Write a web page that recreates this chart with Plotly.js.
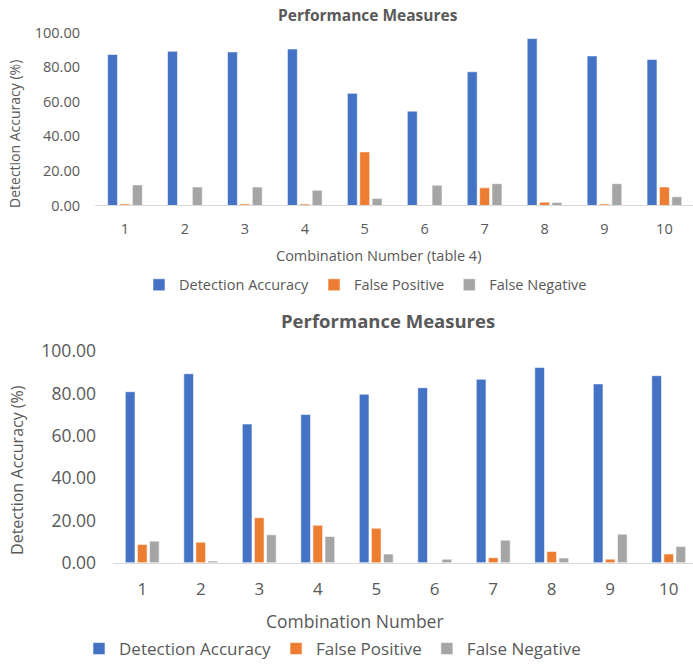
<!DOCTYPE html>
<html>
<head>
<meta charset="utf-8">
<script src="https://cdn.plot.ly/plotly-3.0.1.min.js"></script>
<style>
  html, body { margin: 0; padding: 0; background: #ffffff; }
  #chart { width: 693px; height: 667px; }
</style>
</head>
<body>
<div id="chart"></div>
<script>
// ---- Data ----
const combos = [1, 2, 3, 4, 5, 6, 7, 8, 9, 10];
const seriesNames = ['Detection Accuracy', 'False Positive', 'False Negative'];

// Top chart: Combination Number (table 4)
const topDetectionAccuracy = [87.4, 89.3, 88.9, 90.6, 64.9, 54.6, 77.4, 96.6, 86.6, 84.5];
const topFalsePositive     = [0.8, 0.0, 0.8, 0.8, 31.0, 0.3, 10.2, 1.9, 0.8, 10.7];
const topFalseNegative     = [11.9, 10.7, 10.7, 8.8, 4.0, 11.7, 12.6, 1.7, 12.6, 5.0];

// Bottom chart: Combination Number
const botDetectionAccuracy = [80.9, 89.4, 65.6, 70.1, 79.7, 82.8, 86.8, 92.4, 84.6, 88.5];
const botFalsePositive     = [8.6, 9.7, 21.3, 17.7, 16.3, 0.0, 2.4, 5.3, 1.7, 4.1];
const botFalseNegative     = [10.2, 0.8, 13.2, 12.4, 4.1, 1.7, 10.7, 2.2, 13.5, 7.7];

const yTicks = [0, 20, 40, 60, 80, 100];

// ---- Styles ----
const colors = ['#4472C4', '#ED7D31', '#A5A5A5'];
const textColor = '#595959';
const fontFamily = '"Open Sans", "Noto Sans", sans-serif';
const W = 693, H = 667;
const px = v => v / W;
const py = v => 1 - v / H;

function makeTraces(valsList, xaxis, yaxis, legend) {
  return valsList.map((vals, i) => ({
    type: 'bar',
    name: seriesNames[i],
    x: combos,
    y: vals,
    xaxis: xaxis,
    yaxis: yaxis,
    legend: legend,
    marker: { color: colors[i], line: { color: 'rgba(255,255,255,0.7)', width: 0.8 } },
    hoverinfo: 'x+y+name'
  }));
}

const data = []
  .concat(makeTraces([topDetectionAccuracy, topFalsePositive, topFalseNegative], 'x', 'y', 'legend'))
  .concat(makeTraces([botDetectionAccuracy, botFalsePositive, botFalseNegative], 'x2', 'y2', 'legend2'));

function xAxis(domain, range, size, standoff, anchor) {
  return {
    domain: domain,
    range: range,
    anchor: anchor,
    tickmode: 'array',
    tickvals: combos,
    ticktext: combos.map(String),
    ticks: '',
    ticklabelstandoff: standoff,
    showgrid: false,
    zeroline: false,
    showline: true,
    linecolor: '#D9D9D9',
    linewidth: 1,
    tickfont: { family: fontFamily, size: size, color: textColor },
    fixedrange: true
  };
}
function yAxis(domain, size, standoff, anchor) {
  return {
    domain: domain,
    range: [0, 100],
    anchor: anchor,
    tickmode: 'array',
    tickvals: yTicks,
    tickformat: '.2f',
    ticks: '',
    ticklabelstandoff: standoff,
    showgrid: false,
    zeroline: false,
    showline: false,
    tickfont: { family: fontFamily, size: size, color: textColor },
    fixedrange: true
  };
}

const layout = {
  width: W,
  height: H,
  margin: { l: 0, r: 0, t: 0, b: 0, pad: 0 },
  paper_bgcolor: '#ffffff',
  plot_bgcolor: '#ffffff',
  barmode: 'group',
  bargap: 0.38,
  bargroupgap: 0.2,
  font: { family: fontFamily, color: textColor },
  xaxis: xAxis([px(95), 1], [0.5, 10.477], 14.5, 10, 'y'),
  yaxis: yAxis([py(207), py(33)], 14.5, 14, 'x'),
  xaxis2: xAxis([px(113), 1], [0.5, 10.415], 17, 11, 'y2'),
  yaxis2: yAxis([py(567), py(354)], 17.5, 16, 'x2'),
  legend: {
    orientation: 'h',
    x: px(139), xanchor: 'left',
    y: py(287), yanchor: 'middle',
    font: { family: fontFamily, size: 14.5, color: textColor },
    bgcolor: 'rgba(0,0,0,0)',
    traceorder: 'normal'
  },
  legend2: {
    orientation: 'h',
    x: px(79), xanchor: 'left',
    y: py(654), yanchor: 'middle',
    font: { family: fontFamily, size: 17, color: textColor },
    bgcolor: 'rgba(0,0,0,0)',
    traceorder: 'normal'
  },
  annotations: [
    { text: '<b>Performance Measures</b>', xref: 'paper', yref: 'paper',
      x: px(368), y: py(15), xanchor: 'center', yanchor: 'middle', showarrow: false,
      font: { family: fontFamily, size: 15.5, color: textColor } },
    { text: 'Detection Accuracy (%)', xref: 'paper', yref: 'paper',
      x: px(15), y: py(135), xanchor: 'center', yanchor: 'middle', showarrow: false, textangle: -90,
      font: { family: fontFamily, size: 14, color: textColor } },
    { text: 'Combination Number (table 4)', xref: 'paper', yref: 'paper',
      x: px(378), y: py(257), xanchor: 'center', yanchor: 'middle', showarrow: false,
      font: { family: fontFamily, size: 14.5, color: textColor } },
    { text: '<b>Performance Measures</b>', xref: 'paper', yref: 'paper',
      x: px(388.5), y: py(323), xanchor: 'center', yanchor: 'middle', showarrow: false,
      font: { family: fontFamily, size: 18.5, color: textColor } },
    { text: 'Detection Accuracy (%)', xref: 'paper', yref: 'paper',
      x: px(17.5), y: py(474), xanchor: 'center', yanchor: 'middle', showarrow: false, textangle: -90,
      font: { family: fontFamily, size: 16, color: textColor } },
    { text: 'Combination Number', xref: 'paper', yref: 'paper',
      x: px(354.5), y: py(626), xanchor: 'center', yanchor: 'middle', showarrow: false,
      font: { family: fontFamily, size: 17.5, color: textColor } }
  ]
};

Plotly.newPlot('chart', data, layout, { staticPlot: true, displayModeBar: false });
</script>
</body>
</html>
